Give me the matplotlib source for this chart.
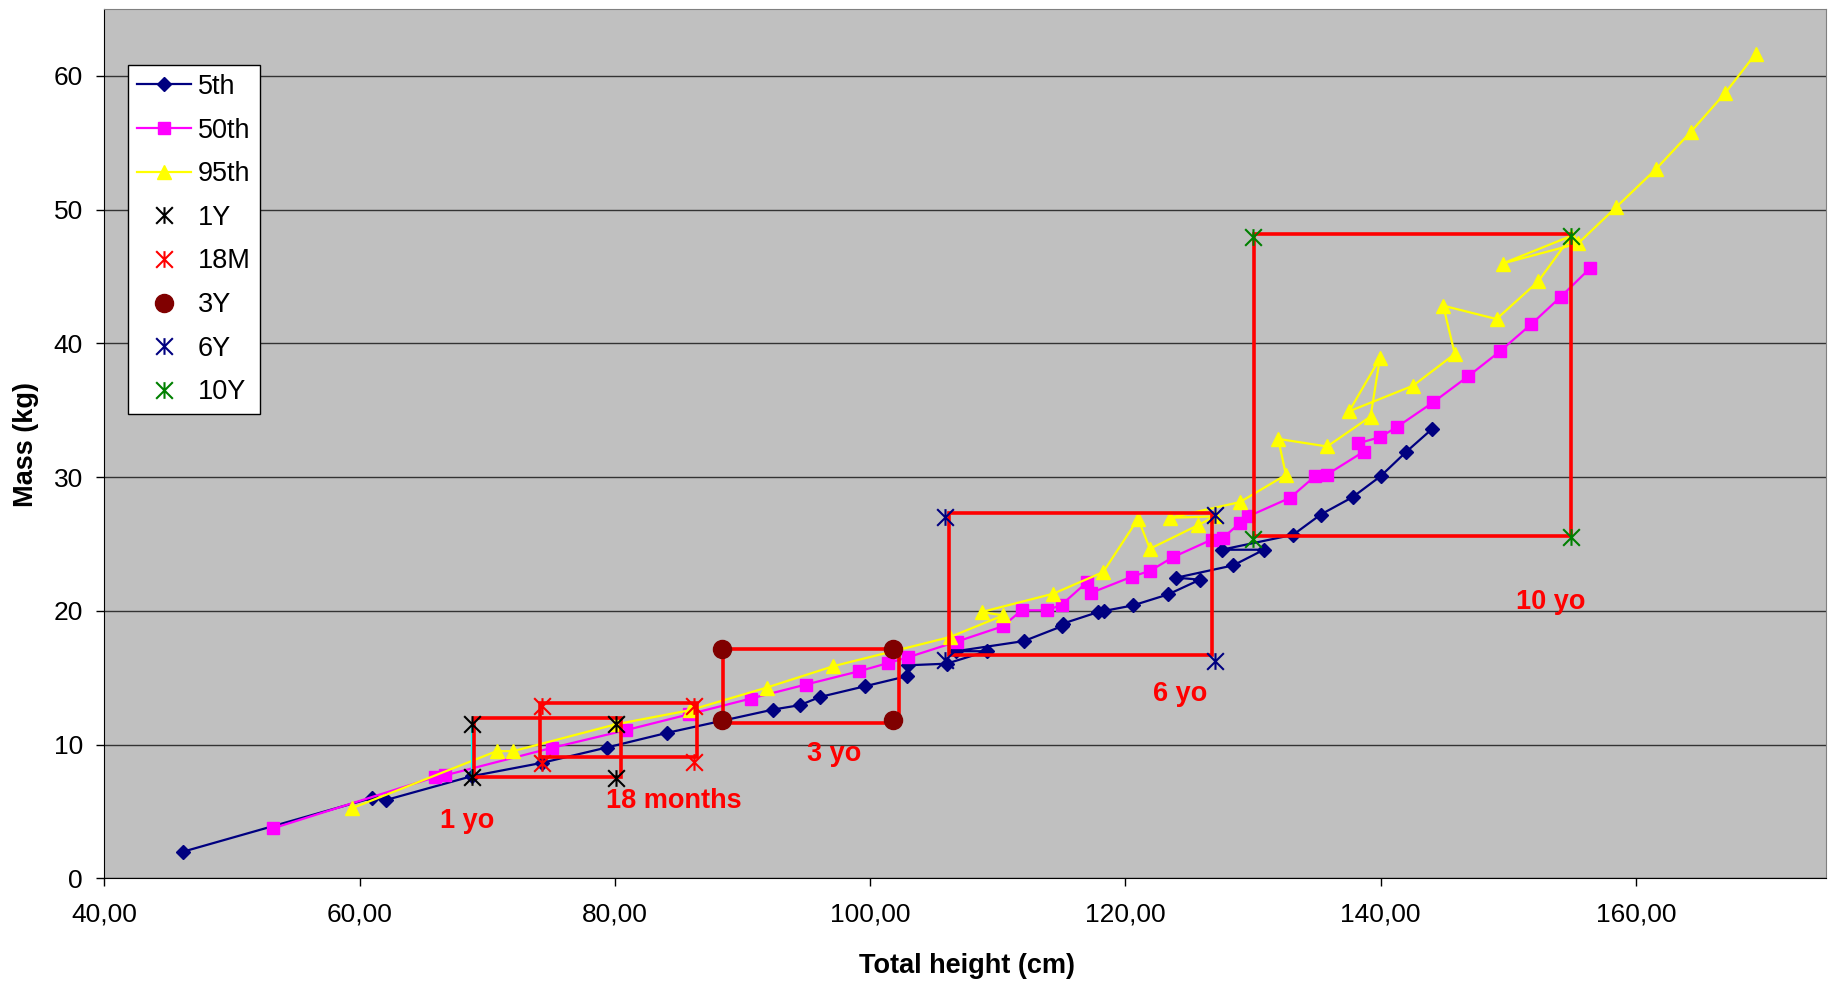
import numpy as np
import matplotlib.pyplot as plt
from matplotlib.path import Path
from matplotlib.patches import Rectangle
from matplotlib.ticker import FuncFormatter

plt.rcParams['font.family'] = ['Liberation Sans', 'DejaVu Sans']

# Percentile curves: total height (cm) vs mass (kg)
p5_height = [46.2, 60.95, 62.05, 68.8, 74.27, 79.36, 84.06, 92.41, 94.5, 96.07, 99.59,
             102.86, 102.99, 106.0, 109.13, 106.72, 112.05, 115.0, 115.08, 117.87, 118.32,
             120.61, 123.35, 125.84, 124.0, 128.45, 130.85, 127.54, 133.15, 135.3, 137.8,
             140.0, 141.97, 144.03]
p5_mass = [2.0, 6.0, 5.85, 7.64, 8.63, 9.78, 10.87, 12.62, 12.95, 13.56, 14.36,
           15.11, 15.93, 16.05, 16.98, 16.98, 17.74, 18.84, 19.04, 19.91, 19.99,
           20.41, 21.23, 22.33, 22.48, 23.4, 24.57, 24.57, 25.69, 27.2, 28.5,
           30.07, 31.86, 33.6]

p50_height = [53.19, 65.91, 66.69, 75.05, 80.87, 85.83, 90.64, 94.97, 99.12, 101.42,
              102.95, 106.8, 110.38, 111.87, 113.87, 115.0, 117.0, 117.27, 120.5, 121.95,
              123.74, 126.75, 127.66, 128.97, 129.62, 132.9, 134.84, 135.76, 138.68,
              138.24, 139.94, 141.25, 144.11, 146.86, 149.34, 151.82, 154.12, 156.39]
p50_mass = [3.73, 7.57, 7.7, 9.75, 11.08, 12.27, 13.44, 14.49, 15.48, 16.1,
            16.52, 17.7, 18.84, 20.04, 20.04, 20.46, 22.15, 21.33, 22.55, 23.0,
            24.02, 25.32, 25.47, 26.56, 27.06, 28.45, 30.05, 30.17, 31.91,
            32.53, 32.98, 33.73, 35.59, 37.54, 39.4, 41.45, 43.49, 45.6]

p95_height = [59.38, 70.74, 72.04, 80.09, 85.88, 91.89, 97.11, 106.25, 110.43, 108.73,
              114.34, 118.26, 121.0, 121.92, 125.66, 127.0, 123.49, 128.97, 132.58,
              131.97, 135.81, 139.21, 139.94, 137.53, 142.55, 145.81, 144.9, 149.08,
              152.34, 154.95, 149.55, 155.47, 158.48, 161.56, 164.3, 167.02, 169.39]
p95_mass = [5.23, 9.51, 9.51, 11.52, 12.57, 14.26, 15.86, 18.04, 19.66, 19.91,
            21.28, 22.9, 26.89, 24.64, 26.39, 27.06, 26.96, 28.13, 30.17,
            32.86, 32.29, 34.53, 38.88, 34.92, 36.84, 39.21, 42.82, 41.82,
            44.63, 48.04, 45.97, 47.47, 50.21, 53.02, 55.81, 58.75, 61.66]

# Age corner points
y1_height = [68.8, 68.8, 80.1, 80.1]
y1_mass = [11.55, 7.55, 11.52, 7.47]
m18_height = [74.27, 74.27, 86.22, 86.22]
m18_mass = [12.9, 8.63, 12.85, 8.72]
y3_height = [88.37, 88.37, 101.81, 101.81]
y3_mass = [17.18, 11.84, 17.18, 11.84]
y6_height = [105.86, 105.86, 127.01, 127.01]
y6_mass = [27.0, 16.3, 27.13, 16.25]
y10_height = [130.0, 130.0, 154.95, 154.95]
y10_mass = [47.95, 25.4, 48.0, 25.5]

# Drawn boxes (left, right, bottom, top) and their captions
box_left = [68.96, 74.13, 88.45, 106.2, 130.07]
box_right = [80.48, 86.41, 102.28, 126.75, 154.95]
box_bottom = [7.59, 9.04, 11.62, 16.68, 25.6]
box_top = [11.95, 13.11, 17.18, 27.33, 48.17]
box_text = ['1 yo', '18 months', '3 yo', '6 yo', '10 yo']
text_x = [68.4, 84.6, 97.2, 124.25, 153.3]
text_y = [4.3, 5.77, 9.26, 13.8, 20.65]

star = Path([(0, -1), (0, 1), (-1, -1), (1, 1), (-1, 1), (1, -1)],
            [Path.MOVETO, Path.LINETO, Path.MOVETO, Path.LINETO, Path.MOVETO, Path.LINETO])

fig = plt.figure(figsize=(18.31, 9.83), dpi=100)
ax = fig.add_axes([0.057, 0.1065, 0.9403, 0.8843])
ax.set_facecolor('#C0C0C0')

ax.plot(p5_height, p5_mass, color='#000080', lw=1.6, marker='D', ms=7.2, label='5th', zorder=3)
ax.plot(p50_height, p50_mass, color='#FF00FF', lw=1.6, marker='s', ms=8.2, label='50th', zorder=3)
ax.plot(p95_height, p95_mass, color='#FFFF00', lw=1.6, marker='^', ms=10.5, label='95th', zorder=3)

# cyan segment on the left side of the 1Y points
ax.plot(y1_height[:2], y1_mass[:2], color='#00FFFF', lw=1.6, zorder=3)

for l, r, b, t in zip(box_left, box_right, box_bottom, box_top):
    ax.add_patch(Rectangle((l, b), r - l, t - b, fill=False, edgecolor='red', lw=2.6, zorder=4))

ax.plot(y1_height, y1_mass, ls='none', marker=star, ms=12, mew=1.5, color='black', label='1Y', zorder=5)
ax.plot(m18_height, m18_mass, ls='none', marker=star, ms=12, mew=1.5, color='red', label='18M', zorder=5)
ax.plot(y3_height, y3_mass, ls='none', marker='o', ms=13, color='#800000', label='3Y', zorder=5)
ax.plot(y6_height, y6_mass, ls='none', marker=star, ms=12, mew=1.5, color='#000080', label='6Y', zorder=5)
ax.plot(y10_height, y10_mass, ls='none', marker=star, ms=12, mew=1.5, color='#008000', label='10Y', zorder=5)

for s, x, y in zip(box_text, text_x, text_y):
    ax.text(x, y, s, color='red', fontsize=19.5, fontweight='bold', ha='center', va='center', zorder=6)

ax.set_xlim(40, 174.9)
ax.set_ylim(0, 65)
ax.set_xticks(np.arange(40, 161, 20))
ax.set_yticks(np.arange(0, 61, 10))
ax.xaxis.set_major_formatter(FuncFormatter(lambda v, p: f'{v:.2f}'.replace('.', ',')))
ax.tick_params(axis='x', direction='out', length=5.5, width=1, labelsize=19, pad=12)
ax.tick_params(axis='y', direction='out', length=5.5, width=1, labelsize=19, pad=10)
ax.grid(axis='y', color='#333333', lw=1.0)
ax.set_axisbelow(True)
for side in ['left', 'bottom']:
    ax.spines[side].set_color('black')
for side in ['top', 'right']:
    ax.spines[side].set_color('#808080')

fig.text(0.528, 0.0176, 'Total height (cm)', fontsize=19.5, fontweight='bold', ha='center', va='center')
fig.text(0.0142, 0.548, 'Mass (kg)', fontsize=19.5, fontweight='bold', ha='center', va='center', rotation=90)

leg = ax.legend(loc='upper left', bbox_to_anchor=(0.0138, 0.9356), borderaxespad=0,
                fontsize=19.5, frameon=True, fancybox=False, edgecolor='black', framealpha=1,
                handlelength=2.0, handletextpad=0.25, borderpad=0.33, labelspacing=0.65)
leg.get_frame().set_linewidth(1.0)

fig.savefig('out.png', dpi=100)
